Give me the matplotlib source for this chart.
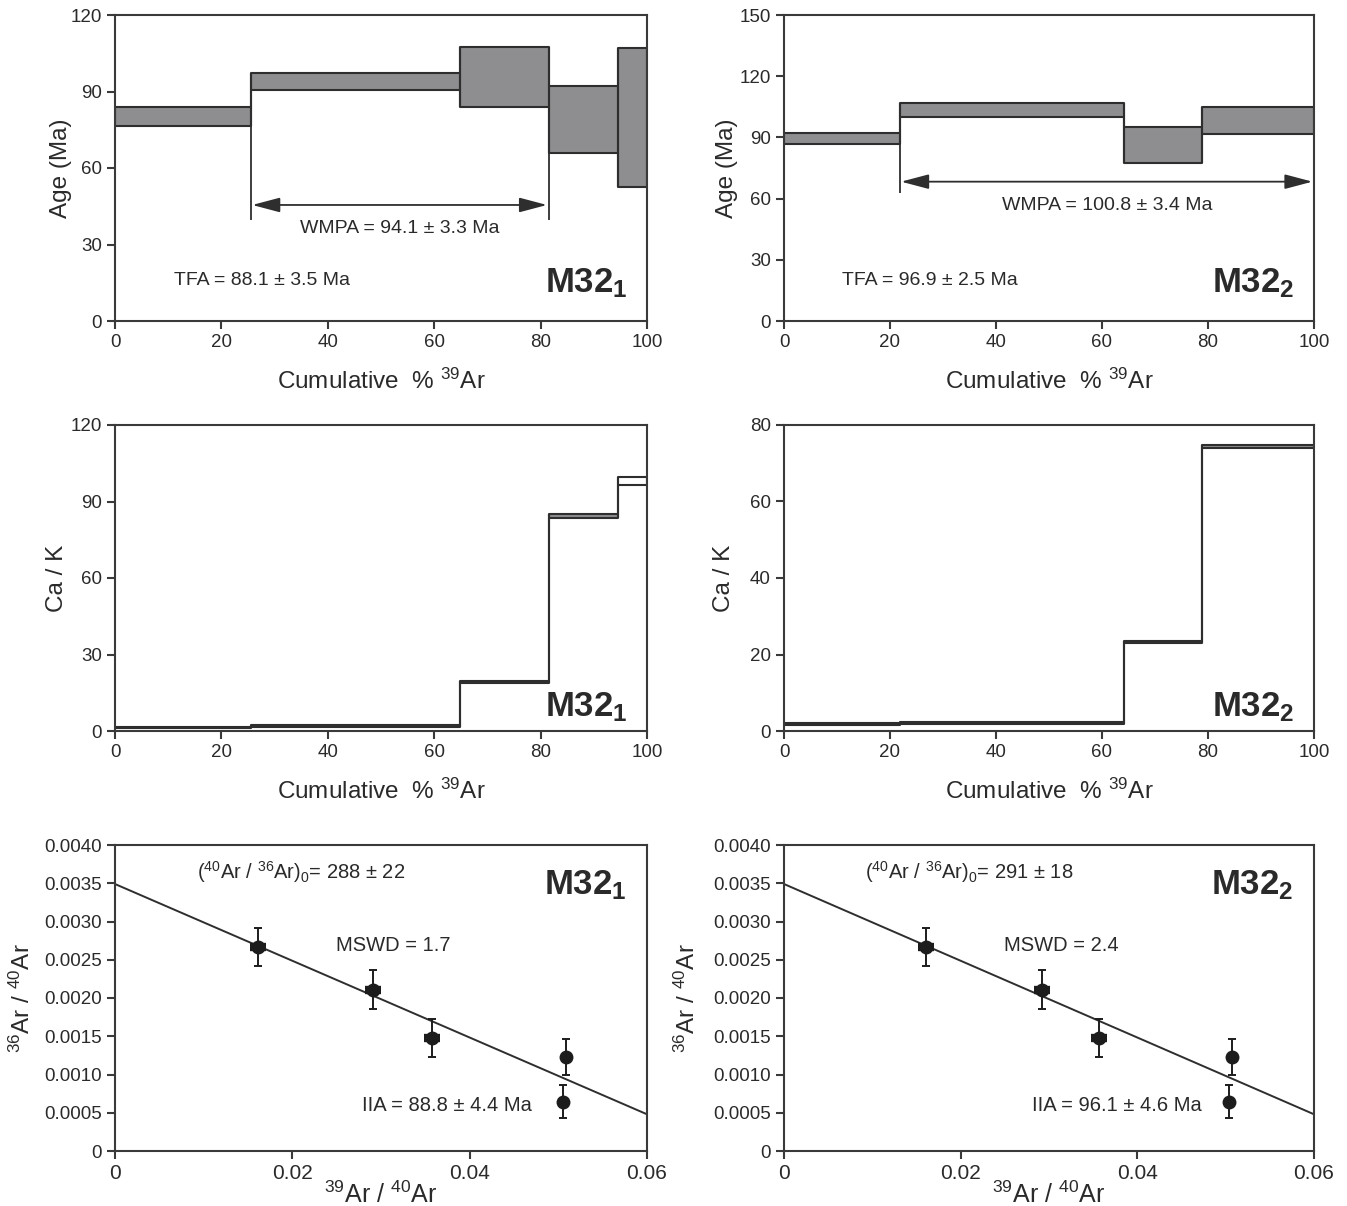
import numpy as np
import matplotlib
matplotlib.use('Agg')
import matplotlib.pyplot as plt

plt.rcParams['font.family'] = ['Liberation Sans', 'DejaVu Sans']
plt.rcParams['mathtext.fontset'] = 'custom'
plt.rcParams['mathtext.rm'] = 'Liberation Sans'
plt.rcParams['mathtext.bf'] = 'Liberation Sans:bold'
plt.rcParams['mathtext.default'] = 'regular'

#sample M32_1 step heating
cum1 = [0, 25.5, 64.9, 81.5, 94.6, 100]
age_lo1 = [76.5, 90.6, 84.1, 66.0, 52.7]
age_hi1 = [83.8, 97.4, 107.6, 92.3, 106.9]
cak_lo1 = [1.0, 1.6, 19.0, 83.7, 96.5]
cak_hi1 = [1.7, 2.2, 19.5, 85.0, 99.6]

#sample M32_2 step heating
cum2 = [0, 21.8, 64.2, 78.9, 100]
age_lo2 = [86.6, 99.8, 77.6, 91.7]
age_hi2 = [92.3, 106.7, 95.3, 104.7]
cak_lo2 = [1.6, 1.9, 23.1, 74.0]
cak_hi2 = [2.0, 2.3, 23.5, 74.9]

#plateau limits (start, end, arrow height, line bottom)
plat1 = (25.5, 81.5, 45.5, 39.6)
plat2 = (21.8, 100, 68.3, 62.6)

#isochron points
iso_x1 = [0.0161, 0.0291, 0.0357, 0.0509, 0.0505]
iso_x2 = [0.0161, 0.0292, 0.0357, 0.0507, 0.0504]
iso_y = [0.00267, 0.00211, 0.00148, 0.00123, 0.000645]
iso_ye = [0.00025, 0.00025, 0.00025, 0.00023, 0.00022]
iso_xe = [0.0009, 0.0009, 0.0009, 0.0, 0.0]
fit_y0 = 0.00349
fit_y6 = 0.00048

#text
tfa = ['TFA = 88.1 ± 3.5 Ma', 'TFA = 96.9 ± 2.5 Ma']
wmpa = ['WMPA = 94.1 ± 3.3 Ma', 'WMPA = 100.8 ± 3.4 Ma']
ratio0 = ['288 ± 22', '291 ± 18']
mswd = ['MSWD = 1.7', 'MSWD = 2.4']
iia = ['IIA = 88.8 ± 4.4 Ma', 'IIA = 96.1 ± 4.6 Ma']
names = [r'$\mathbf{M32_1}$', r'$\mathbf{M32_2}$']

iso_ticks = [0, 0.0005, 0.001, 0.0015, 0.002, 0.0025, 0.003, 0.0035, 0.004]
iso_ticklabels = ['0', '0.0005', '0.0010', '0.0015', '0.0020', '0.0025',
                  '0.0030', '0.0035', '0.0040']

FILL = '#8e8e91'
EDGE = '#2e2e2e'
AX = '#3a3a3a'
TXT = '#2a2a2a'

fig = plt.figure(figsize=(13.47, 12.06), dpi=100)

lefts = [115/1347, 784/1347]
widths = [532/1347, 530/1347]
bottoms = [1 - 321/1206, 1 - 731/1206, 1 - 1151/1206]
h = 306/1206


def style(ax):
    for sp in ax.spines.values():
        sp.set_color(AX)
        sp.set_linewidth(1.5)
    ax.tick_params(direction='out', length=6, width=1.5, color=AX,
                   labelsize=13.5, labelcolor=TXT, top=False, right=False)


def steps(ax, cum, lo, hi, nfill=None):
    # nfill: how many steps get the grey fill (rest left open)
    if nfill is None:
        nfill = len(lo)
    lo2 = list(lo) + [lo[-1]]
    hi2 = list(hi) + [hi[-1]]
    ax.fill_between(cum[:nfill + 1], lo2[:nfill + 1], hi2[:nfill + 1],
                    step='post', color=FILL, lw=0)
    ax.step(cum, lo2, where='post', color=EDGE, lw=1.5)
    ax.step(cum, hi2, where='post', color=EDGE, lw=1.5)
    # box sides
    ax.vlines(cum[:-1], lo, hi, color=EDGE, lw=1.5)
    ax.vlines(cum[1:], lo, hi, color=EDGE, lw=1.5)


for c in range(2):
    if c == 0:
        cum, alo, ahi, clo, chi, plat, ix = cum1, age_lo1, age_hi1, cak_lo1, cak_hi1, plat1, iso_x1
    else:
        cum, alo, ahi, clo, chi, plat, ix = cum2, age_lo2, age_hi2, cak_lo2, cak_hi2, plat2, iso_x2

    #age spectrum
    ax = fig.add_axes([lefts[c], bottoms[0], widths[c], h])
    style(ax)
    steps(ax, cum, alo, ahi)
    ax.set_xlim(0, 100)
    if c == 0:
        ax.set_ylim(0, 120)
        ax.set_yticks([0, 30, 60, 90, 120])
    else:
        ax.set_ylim(0, 150)
        ax.set_yticks([0, 30, 60, 90, 120, 150])
    ax.set_xticks([0, 20, 40, 60, 80, 100])
    # plateau markers
    i0 = cum.index(plat[0])
    ax.vlines(plat[0], plat[3], alo[i0], color=EDGE, lw=1.3)
    if plat[1] < 100:
        i1 = cum.index(plat[1])
        ax.vlines(plat[1], plat[3], alo[i1 - 1], color=EDGE, lw=1.3)
    ax.annotate('', xy=(plat[0] + 0.3, plat[2]), xytext=(plat[1] - 0.3, plat[2]),
                arrowprops=dict(arrowstyle='<|-|>,head_length=1.7,head_width=0.45',
                                color=EDGE, lw=1.3, shrinkA=0, shrinkB=0))
    ax.text((plat[0] + plat[1]) / 2, plat[2] - 9.2 * (1 if c == 0 else 1.25),
            wmpa[c], ha='center', va='center', fontsize=14, color=TXT)
    ax.text(11, 16 if c == 0 else 20, tfa[c], ha='left', va='center', fontsize=14, color=TXT)
    ax.text(96.4, 11.1 if c == 0 else 13.9, names[c], ha='right', va='baseline',
            fontsize=25, color=TXT)
    ax.set_ylabel('Age (Ma)', fontsize=17.5, color=TXT)
    ax.yaxis.set_label_coords(-0.08 if c == 0 else -0.087, 0.5)
    ax.set_xlabel('Cumulative  % $^{39}$Ar', fontsize=17.5, color=TXT)
    ax.xaxis.set_label_coords(0.5, -0.155)

    #Ca/K spectrum
    ax = fig.add_axes([lefts[c], bottoms[1], widths[c], h])
    style(ax)
    steps(ax, cum, clo, chi, nfill=len(clo) - 1 if c == 0 else None)
    ax.set_xlim(0, 100)
    if c == 0:
        ax.set_ylim(0, 120)
        ax.set_yticks([0, 30, 60, 90, 120])
        ny = 5.9
    else:
        ax.set_ylim(0, 80)
        ax.set_yticks([0, 20, 40, 60, 80])
        ny = 3.9
    ax.set_xticks([0, 20, 40, 60, 80, 100])
    ax.text(96.4, ny, names[c], ha='right', va='baseline', fontsize=25, color=TXT)
    ax.set_ylabel('Ca / K', fontsize=17.5, color=TXT)
    ax.yaxis.set_label_coords(-0.088 if c == 0 else -0.092, 0.5)
    ax.set_xlabel('Cumulative  % $^{39}$Ar', fontsize=17.5, color=TXT)
    ax.xaxis.set_label_coords(0.5, -0.155)

    #isochron
    ax = fig.add_axes([lefts[c], bottoms[2], widths[c], h])
    style(ax)
    ax.plot([0, 0.06], [fit_y0, fit_y6], color=EDGE, lw=1.4)
    ax.errorbar(ix, iso_y, xerr=iso_xe, fmt='none', ecolor='#1c1c1c', elinewidth=6)
    ax.errorbar(ix, iso_y, yerr=iso_ye, fmt='o', color='#1c1c1c', ms=9,
                elinewidth=1.4, capsize=3, capthick=1.4)
    ax.set_xlim(0, 0.06)
    ax.set_ylim(0, 0.004)
    ax.set_xticks([0, 0.02, 0.04, 0.06])
    ax.set_xticklabels(['0', '0.02', '0.04', '0.06'])
    ax.set_yticks(iso_ticks)
    ax.set_yticklabels(iso_ticklabels)
    ax.tick_params(axis='x', labelsize=15)
    ax.text(0.0092, 0.00365, r'($^{40}$Ar / $^{36}$Ar)$_0$= ' + ratio0[c],
            ha='left', va='center', fontsize=14.5, color=TXT)
    ax.text(0.0314, 0.00268, mswd[c], ha='center', va='center', fontsize=14.5, color=TXT)
    ax.text(0.0374 if c == 0 else 0.0377, 0.0006, iia[c], ha='center', va='center',
            fontsize=14.5, color=TXT)
    ax.text(0.0577, 0.00336, names[c], ha='right', va='baseline', fontsize=25, color=TXT)
    ax.set_ylabel('$^{36}$Ar / $^{40}$Ar', fontsize=17.5, color=TXT)
    ax.yaxis.set_label_coords(-0.15 if c == 0 else -0.158, 0.5)
    ax.set_xlabel('$^{39}$Ar / $^{40}$Ar', fontsize=18, color=TXT)
    ax.xaxis.set_label_coords(0.5, -0.1)

fig.savefig('out.png', dpi=100)
